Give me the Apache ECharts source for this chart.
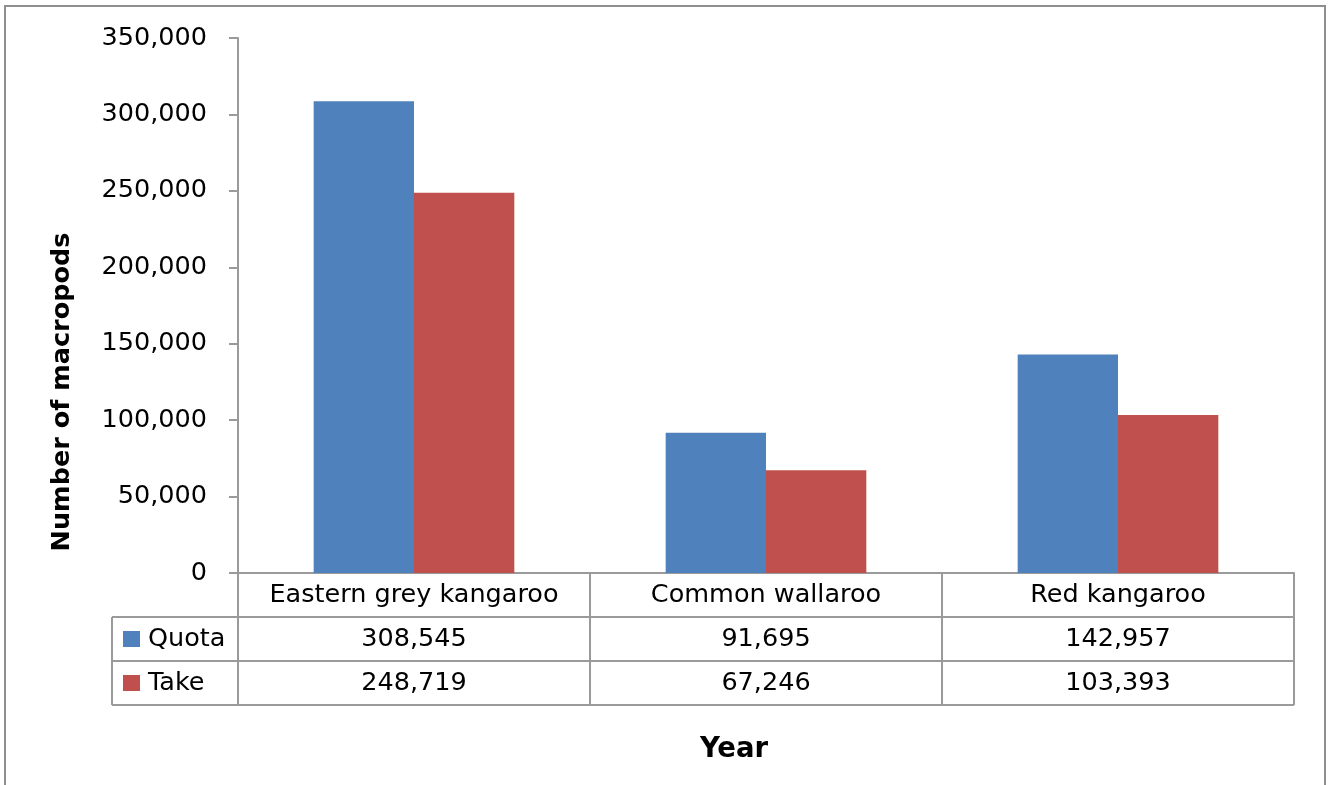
<!DOCTYPE html>
<html>
<head>
<meta charset="utf-8">
<script src="https://cdn.jsdelivr.net/npm/echarts@6/dist/echarts.min.js"></script>
<style>
  html, body { margin: 0; padding: 0; background: #fff; }
  #chart { width: 1328px; height: 785px; }
</style>
</head>
<body>
<div id="chart"></div>
<script>
// Macropod commercial harvest: quota vs actual take by species
const categories = ['Eastern grey kangaroo', 'Common wallaroo', 'Red kangaroo'];
const quota = [308545, 91695, 142957];
const take = [248719, 67246, 103393];
const seriesNames = ['Quota', 'Take'];
const yTicks = { min: 0, max: 350000, interval: 50000 };

const COLORS = ['#4F81BD', '#C0504D'];
const LINE = '#9a9a9a';
const FONT = 'DejaVu Sans';
const TXT = '25.5px "' + FONT + '"';

// Plot area (pixels)
const G = { left: 238, right: 1294, top: 38, bottom: 573 };
const ROW_H = 44;
const TABLE_LEFT = 112;

const fmt = v => v.toLocaleString('en-US');

const chart = echarts.init(document.getElementById('chart'), null, { renderer: 'canvas' });

chart.setOption({
  backgroundColor: '#fff',
  animation: false,
  grid: { left: G.left, right: 1328 - G.right, top: G.top, bottom: 785 - G.bottom, containLabel: false },
  xAxis: {
    type: 'category',
    data: categories,
    axisLine: { show: true, lineStyle: { color: LINE, width: 2 } },
    axisTick: { show: false },
    axisLabel: { show: false },
    splitLine: { show: false }
  },
  yAxis: {
    type: 'value',
    min: yTicks.min, max: yTicks.max, interval: yTicks.interval,
    axisLine: { show: true, lineStyle: { color: LINE, width: 2 } },
    axisTick: { show: true, length: 9, lineStyle: { color: LINE, width: 2 } },
    axisLabel: { fontFamily: FONT, fontSize: 25.5, color: '#000', margin: 31, formatter: v => fmt(v) },
    splitLine: { show: false }
  },
  series: [
    { name: seriesNames[0], type: 'bar', data: quota, barGap: '0%', barCategoryGap: '43%', itemStyle: { color: COLORS[0] } },
    { name: seriesNames[1], type: 'bar', data: take, barGap: '0%', barCategoryGap: '43%', itemStyle: { color: COLORS[1] } }
  ]
});

// Data table beneath the plot, outer frame and axis titles
function buildGraphics() {
  const els = [];
  const line = (x1, y1, x2, y2, c) => els.push({
    type: 'line', silent: true,
    shape: { x1, y1, x2, y2 },
    style: { stroke: c || LINE, lineWidth: 2 }
  });
  const text = (x, y, str, opts) => els.push(Object.assign({
    type: 'text', silent: true, x, y,
    style: Object.assign({ text: str, fill: '#000', font: TXT, align: 'center', verticalAlign: 'middle' }, opts || {})
  }));

  // outer chart frame
  els.push({ type: 'rect', silent: true, shape: { x: 5, y: 6, width: 1320, height: 800 },
    style: { fill: 'none', stroke: '#8e8e8e', lineWidth: 2 } });

  const rowTops = [G.bottom, G.bottom + ROW_H, G.bottom + 2 * ROW_H, G.bottom + 3 * ROW_H];
  const n = categories.length;
  const colW = (G.right - G.left) / n;

  // horizontal rules
  line(G.left, rowTops[0], G.right, rowTops[0]);
  line(TABLE_LEFT, rowTops[1], G.right, rowTops[1]);
  line(TABLE_LEFT, rowTops[2], G.right, rowTops[2]);
  line(TABLE_LEFT, rowTops[3], G.right, rowTops[3]);
  // vertical rules
  for (let i = 0; i <= n; i++) {
    const x = G.left + i * colW;
    line(x, rowTops[0], x, rowTops[3]);
  }
  line(TABLE_LEFT, rowTops[1], TABLE_LEFT, rowTops[3]);

  // header and value cells
  const rows = [quota, take];
  categories.forEach((c, i) => {
    const cx = chart.convertToPixel({ xAxisIndex: 0 }, c);
    text(cx, rowTops[0] + ROW_H / 2, c);
    rows.forEach((r, k) => text(cx, rowTops[k + 1] + ROW_H / 2, fmt(r[i])));
  });

  // legend keys inside the table
  seriesNames.forEach((s, k) => {
    const cy = rowTops[k + 1] + ROW_H / 2;
    els.push({ type: 'rect', silent: true, shape: { x: 123, y: cy - 8, width: 17, height: 16 },
      style: { fill: COLORS[k] } });
    text(148, cy, s, { align: 'left' });
  });

  // axis titles
  text(734, 750, 'Year', { font: 'bold 27.5px "' + FONT + '"' });
  els.push({ type: 'text', silent: true, x: 62, y: 392, rotation: Math.PI / 2,
    style: { text: 'Number of macropods', fill: '#000', font: 'bold 25.5px "' + FONT + '"', align: 'center', verticalAlign: 'middle' } });

  return els;
}

chart.setOption({ graphic: { elements: buildGraphics() } });
</script>
</body>
</html>
